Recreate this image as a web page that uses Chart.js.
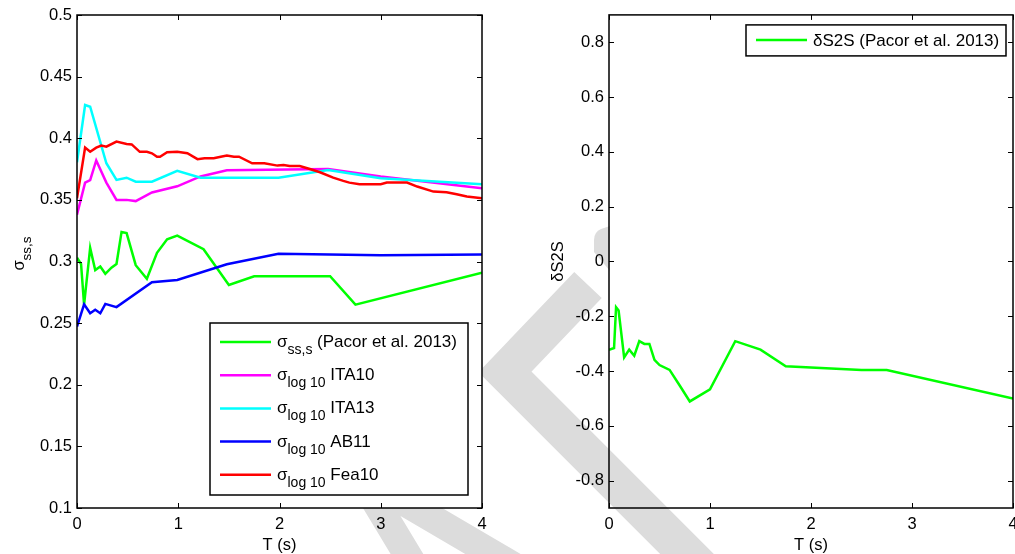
<!DOCTYPE html>
<html>
<head>
<meta charset="utf-8">
<script src="https://cdn.jsdelivr.net/npm/chart.js@4.4.0/dist/chart.umd.min.js"></script>
<style>
html, body { margin: 0; padding: 0; background: #fff; }
#page { position: relative; width: 1015px; height: 554px; overflow: hidden; }
#stamp { position: absolute; left: 0; top: 0; }
#left { position: absolute; left: 0; top: 0; }
#right { position: absolute; left: 500px; top: 0; }
</style>
</head>
<body>
<div id="page">
  <!-- light grey stamp sitting behind both axes -->
  <svg id="stamp" width="1015" height="554">
    <g fill="none" stroke="#dcdcdc" stroke-linejoin="miter">
      <polyline points="588,285 505,372 725,592" stroke-width="38"/>
      <polyline points="419,574 360,476 527,574" stroke-width="28"/>
    </g>
    <path d="M610,226 L601,229 Q594,232 594,240 L594,252 L610,271 Z" fill="#dcdcdc"/>
  </svg>
  <canvas id="left" width="500" height="554"></canvas>
  <canvas id="right" width="530" height="554"></canvas>
</div>
<script>
// periods (s) and standard deviations, left panel
const periodsPacor = [0, 0.04, 0.07, 0.13, 0.18, 0.23, 0.28, 0.34, 0.39, 0.44, 0.49, 0.58, 0.69, 0.79, 0.89, 0.99, 1.25, 1.5, 1.75, 2.0, 2.5, 2.75, 4.0];
const sigmaPacor = [0.303, 0.298, 0.265, 0.311, 0.293, 0.296, 0.290, 0.295, 0.298, 0.324, 0.323, 0.297, 0.286, 0.307, 0.318, 0.321, 0.310, 0.281, 0.288, 0.288, 0.288, 0.265, 0.291];

const periodsIta10 = [0, 0.08, 0.13, 0.19, 0.29, 0.39, 0.49, 0.58, 0.74, 0.99, 1.22, 1.48, 2.48, 3.0, 4.0];
const sigmaIta10 = [0.338, 0.364, 0.366, 0.382, 0.364, 0.350, 0.350, 0.349, 0.356, 0.361, 0.369, 0.374, 0.375, 0.369, 0.3595];

const periodsIta13 = [0, 0.08, 0.13, 0.29, 0.39, 0.49, 0.58, 0.74, 0.99, 1.22, 1.99, 2.48, 3.0, 4.0];
const sigmaIta13 = [0.3805, 0.427, 0.4256, 0.3797, 0.3662, 0.368, 0.3648, 0.3648, 0.3735, 0.368, 0.368, 0.3743, 0.3676, 0.3627];

const periodsAb11 = [0, 0.07, 0.13, 0.18, 0.23, 0.28, 0.39, 0.74, 0.99, 1.48, 1.99, 3.0, 4.0];
const sigmaAb11 = [0.2472, 0.2652, 0.258, 0.2608, 0.258, 0.2656, 0.263, 0.2832, 0.285, 0.2978, 0.3062, 0.305, 0.3057];

const periodsFea10 = [0, 0.08, 0.13, 0.19, 0.24, 0.29, 0.39, 0.49, 0.54, 0.62, 0.69, 0.74, 0.79, 0.82, 0.89, 0.99, 1.09, 1.19, 1.26, 1.35, 1.42, 1.48, 1.55, 1.6, 1.73, 1.85, 1.98, 2.04, 2.1, 2.2, 2.3, 2.4, 2.53, 2.63, 2.69, 2.79, 3.0, 3.06, 3.26, 3.36, 3.52, 3.65, 3.75, 3.85, 4.0];
const sigmaFea10 = [0.3513, 0.3924, 0.3891, 0.3924, 0.394, 0.3932, 0.3973, 0.3954, 0.395, 0.389, 0.389, 0.3878, 0.385, 0.385, 0.3886, 0.389, 0.3878, 0.383, 0.3838, 0.3838, 0.385, 0.3859, 0.385, 0.385, 0.3797, 0.3797, 0.3778, 0.3783, 0.3775, 0.3775, 0.375, 0.3724, 0.368, 0.3654, 0.364, 0.3627, 0.3627, 0.364, 0.364, 0.3608, 0.3567, 0.3562, 0.3546, 0.3527, 0.3513];

// site term, right panel
const periodsS2S = [0, 0.05, 0.07, 0.095, 0.15, 0.2, 0.25, 0.3, 0.35, 0.4, 0.45, 0.5, 0.6, 0.7, 0.8, 1.0, 1.25, 1.5, 1.75, 2.5, 2.75, 4.0];
const deltaS2S = [-0.323, -0.316, -0.167, -0.179, -0.35, -0.322, -0.344, -0.291, -0.301, -0.301, -0.359, -0.378, -0.396, -0.453, -0.511, -0.467, -0.291, -0.322, -0.383, -0.396, -0.396, -0.5];

const periodTicks = [0, 1, 2, 3, 4];
const sigmaTicks = [0.1, 0.15, 0.2, 0.25, 0.3, 0.35, 0.4, 0.45, 0.5];
const s2sTicks = [-0.8, -0.6, -0.4, -0.2, 0, 0.2, 0.4, 0.6, 0.8];

const sigmaSubs = ['ss,s', 'log 10', 'log 10', 'log 10', 'log 10'];
const sigmaNames = [' (Pacor et al. 2013)', ' ITA10', ' ITA13', ' AB11', ' Fea10'];
const sigmaColors = ['#00ff00', '#ff00ff', '#00ffff', '#0000ff', '#ff0000'];
const s2sName = 'δS2S (Pacor et al. 2013)';

const FONT = "'Liberation Sans', Arial, sans-serif";

function toPoints(xs, ys) {
  return xs.map((x, i) => ({ x: x, y: ys[i] }));
}

// draws a run of text pieces, pieces flagged sub are smaller and lowered
function drawParts(ctx, x, y, parts, align, size) {
  size = size || 16;
  const subSize = Math.round(size * 0.82 * 2) / 2;
  let total = 0;
  const widths = parts.map(p => {
    ctx.font = (p.sub ? subSize : size) + 'px ' + FONT;
    const w = ctx.measureText(p.t).width;
    total += w;
    return w;
  });
  let cx = align === 'center' ? x - total / 2 : x;
  parts.forEach((p, i) => {
    ctx.font = (p.sub ? subSize : size) + 'px ' + FONT;
    ctx.fillText(p.t, cx, y + (p.sub ? 7 : 0));
    cx += widths[i];
  });
}

// matlab style box: inward ticks on all four sides, axis titles, legend
function framePlugin(whiteBg, extra) {
  return {
    id: 'frame',
    beforeDraw(chart) {
      if (!whiteBg) return;
      const a = chart.chartArea, ctx = chart.ctx;
      ctx.save();
      ctx.fillStyle = '#fff';
      ctx.fillRect(a.left, a.top, a.right - a.left, a.bottom - a.top);
      ctx.restore();
    },
    afterDraw(chart) {
      const a = chart.chartArea, ctx = chart.ctx;
      const sx = chart.scales.x, sy = chart.scales.y;
      ctx.save();
      ctx.strokeStyle = '#000';
      ctx.lineWidth = 1;
      ctx.beginPath();
      sx.ticks.forEach(t => {
        const px = Math.round(sx.getPixelForValue(t.value)) + 0.5;
        ctx.moveTo(px, a.bottom); ctx.lineTo(px, a.bottom - 5);
        ctx.moveTo(px, a.top); ctx.lineTo(px, a.top + 5);
      });
      sy.ticks.forEach(t => {
        const py = Math.round(sy.getPixelForValue(t.value)) + 0.5;
        ctx.moveTo(a.left, py); ctx.lineTo(a.left + 5, py);
        ctx.moveTo(a.right, py); ctx.lineTo(a.right - 5, py);
      });
      ctx.stroke();
      ctx.lineWidth = 1.5;
      ctx.strokeRect(a.left, a.top, a.right - a.left, a.bottom - a.top);
      ctx.fillStyle = '#000';
      ctx.textAlign = 'left';
      ctx.textBaseline = 'alphabetic';
      drawParts(ctx, (a.left + a.right) / 2, 550, [{ t: 'T (s)' }], 'center', 16.5);
      extra(ctx, a);
      ctx.restore();
    }
  };
}

function axisX() {
  return {
    type: 'linear', min: 0, max: 4,
    grid: { display: false, drawTicks: false },
    border: { display: false },
    ticks: { color: '#000', font: { family: FONT, size: 16.5 }, padding: 7 },
    afterBuildTicks: s => { s.ticks = periodTicks.map(v => ({ value: v })); },
    afterFit: s => { s.height = 46; }
  };
}

function axisY(min, max, ticks, width) {
  return {
    type: 'linear', min: min, max: max,
    grid: { display: false, drawTicks: false },
    border: { display: false },
    ticks: { color: '#000', font: { family: FONT, size: 16.5 }, padding: 5,
      callback: v => String(+v.toFixed(2)) },
    afterBuildTicks: s => { s.ticks = ticks.map(v => ({ value: v })); },
    afterFit: s => { s.width = width; }
  };
}

const sigmaSets = [
  [periodsPacor, sigmaPacor],
  [periodsIta10, sigmaIta10],
  [periodsIta13, sigmaIta13],
  [periodsAb11, sigmaAb11],
  [periodsFea10, sigmaFea10]
].map((s, i) => ({
  data: toPoints(s[0], s[1]),
  borderColor: sigmaColors[i],
  borderWidth: 2.5,
  pointRadius: 0,
  tension: 0,
  fill: false,
  order: 5 - i
}));

new Chart(document.getElementById('left'), {
  type: 'line',
  data: { datasets: sigmaSets },
  options: {
    responsive: false,
    animation: false,
    layout: { padding: { left: 0, top: 15, right: 18, bottom: 0 } },
    plugins: { legend: { display: false }, tooltip: { enabled: false } },
    scales: { x: axisX(), y: axisY(0.1, 0.5, sigmaTicks, 77) }
  },
  plugins: [framePlugin(true, (ctx, a) => {
    // y title with subscript, turned upright
    ctx.save();
    ctx.translate(24, (a.top + a.bottom) / 2 - 8);
    ctx.rotate(-Math.PI / 2);
    drawParts(ctx, 0, 0, [{ t: 'σ' }, { t: 'ss,s', sub: true }], 'center', 16.5);
    ctx.restore();
    // legend box
    const bx = a.right - 272, by = a.bottom - 185, bw = 258, bh = 172;
    ctx.fillStyle = '#fff';
    ctx.fillRect(bx, by, bw, bh);
    ctx.lineWidth = 1.5;
    ctx.strokeStyle = '#000';
    ctx.strokeRect(bx, by, bw, bh);
    sigmaNames.forEach((name, i) => {
      const ry = by + 19 + i * 33.2;
      ctx.strokeStyle = sigmaColors[i];
      ctx.lineWidth = 2.5;
      ctx.beginPath();
      ctx.moveTo(bx + 10, ry);
      ctx.lineTo(bx + 61, ry);
      ctx.stroke();
      ctx.fillStyle = '#000';
      drawParts(ctx, bx + 67, ry + 5, [{ t: 'σ' }, { t: sigmaSubs[i], sub: true }, { t: name }], 'left', 17);
    });
  })]
});

new Chart(document.getElementById('right'), {
  type: 'line',
  data: {
    datasets: [{
      data: toPoints(periodsS2S, deltaS2S),
      borderColor: '#00ff00',
      borderWidth: 2.5,
      pointRadius: 0,
      tension: 0,
      fill: false
    }]
  },
  options: {
    responsive: false,
    animation: false,
    layout: { padding: { left: 0, top: 14, right: 17, bottom: 0 } },
    plugins: { legend: { display: false }, tooltip: { enabled: false } },
    scales: { x: axisX(), y: axisY(-0.9, 0.9, s2sTicks, 109) }
  },
  plugins: [framePlugin(false, (ctx, a) => {
    ctx.save();
    ctx.translate(a.left - 46, (a.top + a.bottom) / 2);
    ctx.rotate(-Math.PI / 2);
    drawParts(ctx, 0, 0, [{ t: 'δS2S' }], 'center', 16.5);
    ctx.restore();
    const bx = a.right - 267, by = a.top + 10, bw = 260, bh = 31;
    ctx.fillStyle = '#fff';
    ctx.fillRect(bx, by, bw, bh);
    ctx.lineWidth = 1.5;
    ctx.strokeStyle = '#000';
    ctx.strokeRect(bx, by, bw, bh);
    ctx.strokeStyle = '#00ff00';
    ctx.lineWidth = 2.5;
    ctx.beginPath();
    ctx.moveTo(bx + 10, by + 15);
    ctx.lineTo(bx + 61, by + 15);
    ctx.stroke();
    ctx.fillStyle = '#000';
    drawParts(ctx, bx + 67, by + 21, [{ t: s2sName }], 'left', 17);
  })]
});
</script>
</body>
</html>
